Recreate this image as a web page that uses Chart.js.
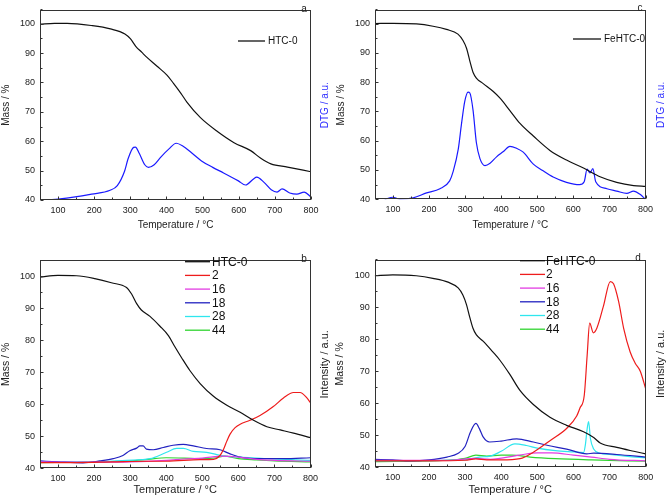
<!DOCTYPE html>
<html>
<head>
<meta charset="utf-8">
<script src="https://cdn.jsdelivr.net/npm/chart.js@4.4.1/dist/chart.umd.min.js"></script>
<style>
  html, body { margin: 0; padding: 0; background: #fff; }
  #wrap { position: relative; width: 666px; height: 501px; overflow: hidden; }
  canvas { position: absolute; }
</style>
</head>
<body>
<div id="wrap">
  <canvas id="ca" width="333" height="250" style="left:0;top:0"></canvas>
  <canvas id="cc" width="333" height="250" style="left:333px;top:0"></canvas>
  <canvas id="cb" width="333" height="251" style="left:0;top:250px"></canvas>
  <canvas id="cd" width="333" height="251" style="left:333px;top:250px"></canvas>
</div>
<script>
/* tick labels */
const X_TICKS = [100, 200, 300, 400, 500, 600, 700, 800];
const Y_TICKS = [40, 50, 60, 70, 80, 90, 100];

/* a: HTC-0 mass + DTG */
const T_A_MASS = [50, 90, 125, 195, 245, 285, 300, 315, 332, 346, 374, 402, 420, 440, 457, 494, 541, 587, 633, 661, 689, 735, 800];
const MASS_A = [99.8, 100.1, 100.1, 99.3, 98.2, 96.5, 94.9, 92.3, 90.2, 88.5, 85.5, 82.4, 79.6, 76.3, 73.2, 68, 63.3, 59.5, 56.8, 54.2, 52.3, 51.2, 49.6];
const T_A_DTG = [60, 92, 138, 193, 244, 264, 284, 294, 309, 314, 325, 340, 350, 366, 385, 407, 427, 446, 467, 497, 528, 558, 599, 619, 640, 650, 670, 690, 706, 720, 741, 761, 781, 800];
const DTG_A = [40, 40.2, 40.9, 42, 43.3, 44.9, 49.8, 54.1, 57.9, 58, 55.8, 52, 51.1, 52, 54.7, 57.4, 59.3, 58.3, 56.3, 53.3, 51.1, 49.2, 46.5, 45.1, 47.1, 47.8, 46, 43.5, 42.7, 43.8, 42.4, 42, 42.7, 41];

/* c: FeHTC-0 mass + DTG */
const T_C_MASS = [50, 100, 165, 211, 248, 280, 294, 304, 313, 322, 331, 350, 378, 396, 424, 452, 489, 535, 581, 628, 674, 720, 767, 800];
const MASS_C = [100, 100.1, 99.9, 99.1, 98, 96.4, 94.2, 91.5, 87.2, 83.3, 81.4, 79.5, 76.8, 74.6, 70.3, 65.9, 61.6, 56.7, 53.4, 50.7, 47.7, 45.8, 44.7, 44.4];
const T_C_DTG = [77, 100, 119, 156, 193, 230, 257, 267, 281, 290, 299, 308, 313, 322, 331, 341, 355, 369, 387, 406, 424, 443, 461, 489, 515, 544, 581, 617, 630, 638, 646, 654, 662, 693, 720, 748, 767, 785, 800];
const DTG_C = [40, 40.7, 40, 40.5, 42.2, 43.6, 46.3, 49.6, 57.2, 65.9, 73.5, 76.6, 76.3, 70.3, 59.4, 53.9, 51.5, 52.3, 54.5, 56.3, 58.1, 57.4, 56.1, 52, 49.8, 47.6, 45.8, 45, 46, 50.3, 49, 50.5, 46, 43.6, 42.8, 42, 42.8, 41.7, 40];

/* b: HTC-0 mass + MS signals */
const T_B_MASS = [50, 100, 151, 202, 248, 290, 304, 318, 331, 355, 382, 406, 424, 443, 466, 494, 531, 568, 605, 642, 679, 716, 753, 800];
const MASS_B = [99.8, 100.3, 100.2, 99.3, 98, 96.5, 94.5, 91.5, 89.5, 87.5, 84.5, 81.5, 78, 74.5, 70.5, 66.5, 62.5, 59.7, 57.5, 55, 53, 52, 51, 49.6];
const T_B_2 = [50, 150, 250, 350, 400, 494, 531, 549, 558, 568, 577, 591, 605, 632, 660, 697, 725, 753, 771, 790, 800];
const B_2 = [41.8, 41.8, 42, 42.2, 42.2, 42.7, 42.8, 44, 45.7, 48.5, 50.7, 52.7, 53.8, 55, 56.5, 59.3, 62, 63.7, 63.7, 62, 60.5];
const T_B_16 = [50, 200, 300, 400, 450, 500, 560, 600, 650, 700, 800];
const B_16 = [42, 41.9, 42, 42.5, 42.9, 43.2, 43.8, 43.5, 42.8, 42.5, 42.2];
const T_B_18 = [50, 100, 169, 216, 253, 280, 299, 318, 327, 336, 345, 364, 392, 419, 447, 475, 512, 549, 577, 605, 660, 725, 800];
const B_18 = [42.3, 42, 41.7, 42.3, 43, 44, 45.5, 46.3, 47, 47, 46, 45.8, 46.5, 47.2, 47.5, 47, 46.2, 45.8, 44.5, 43.5, 43, 43, 43.3];
const T_B_28 = [50, 200, 290, 355, 401, 429, 447, 475, 512, 540, 568, 605, 679, 800];
const B_28 = [42, 42, 42.5, 43, 45, 46.2, 46.2, 45.3, 45, 44.3, 43.7, 43.5, 43, 42.5];
const T_B_44 = [50, 200, 300, 350, 400, 450, 500, 540, 560, 600, 650, 700, 800];
const B_44 = [41.8, 41.9, 42.3, 42.8, 43.3, 43.2, 43, 43.3, 43.8, 43, 42.6, 42.3, 42];

/* d: FeHTC-0 mass + MS signals */
const T_D_MASS = [50, 100, 165, 211, 253, 281, 294, 304, 313, 322, 331, 350, 378, 396, 424, 452, 489, 535, 581, 628, 656, 674, 720, 767, 800];
const MASS_D = [99.8, 100.1, 99.8, 99, 97.8, 96, 93.8, 90.8, 86.9, 83.4, 81.4, 79.4, 75.9, 73.5, 69, 64, 59.6, 55.6, 53.1, 51.1, 49.3, 47.6, 46.2, 45, 44.2];
const T_D_2 = [50, 200, 300, 330, 360, 400, 452, 489, 535, 581, 609, 618, 630, 638, 645, 655, 665, 683, 702, 711, 725, 739, 757, 771, 785, 800];
const D_2 = [42, 42, 42.2, 42.6, 42.3, 42.3, 42.7, 44.7, 48.3, 52.1, 56, 58.5, 62.5, 75, 85, 82, 83.5, 90.3, 98, 97.3, 91.8, 83.4, 76, 72.5, 70, 64.5];
const T_D_16 = [50, 250, 330, 370, 450, 500, 540, 600, 650, 700, 800];
const D_16 = [42.2, 42.2, 42.8, 42.5, 43.8, 44.5, 44.5, 43.8, 43.2, 42.5, 42];
const T_D_18 = [50, 100, 150, 200, 250, 280, 300, 315, 330, 340, 350, 368, 400, 443, 489, 530, 581, 637, 656, 720, 800];
const D_18 = [42.5, 42.3, 42, 42.3, 43.2, 44.3, 46.5, 51, 53.7, 52, 49.5, 47.9, 48.2, 48.9, 47.9, 46.8, 45.7, 44.2, 44.4, 44, 43.2];
const T_D_28 = [50, 300, 340, 370, 400, 438, 470, 500, 550, 600, 628, 633, 638, 642, 647, 656, 674, 700, 750, 800];
const D_28 = [42, 42.3, 43.2, 43.5, 45, 47.3, 46.8, 46, 45.2, 44.8, 44.6, 47, 52, 54.3, 49, 45.7, 44.4, 44, 43.4, 43];
const T_D_44 = [50, 250, 300, 330, 360, 400, 430, 480, 550, 650, 800];
const D_44 = [41.8, 42.2, 42.8, 43.8, 43.5, 43.8, 43.8, 43.2, 42.7, 42.3, 41.9];

Chart.defaults.font.family = "'Liberation Sans', Arial, Helvetica, sans-serif";
Chart.defaults.color = "#222";

const pts = (xs, ys) => xs.map((x, i) => ({ x, y: ys[i] }));

function line(label, xs, ys, color, width) {
  return {
    label,
    data: pts(xs, ys),
    borderColor: color,
    borderWidth: width || 1.2,
    pointRadius: 0,
    fill: false,
    cubicInterpolationMode: "monotone"
  };
}

/* frame, inward ticks, custom legend, letter, right title */
const decor = {
  id: "decor",
  afterDatasetsDraw(chart, args, o) {
    const { ctx, chartArea: a, scales: { x, y } } = chart;
    const L = Math.round(a.left) + 0.5, R = Math.round(a.right) - 0.5;
    const T = Math.round(a.top) + 0.5, B = Math.round(a.bottom) - 0.5;
    ctx.save();
    ctx.strokeStyle = "#333";
    ctx.lineWidth = 1;
    ctx.strokeRect(L, T, R - L, B - T);
    ctx.beginPath();
    X_TICKS.forEach(v => {
      [v, v - 50].forEach((t, k) => {
        const px = Math.round(x.getPixelForValue(t)) + 0.5;
        ctx.moveTo(px, B);
        ctx.lineTo(px, B - (k ? 2 : 3));
      });
    });
    Y_TICKS.forEach(v => {
      [v, v + 5].forEach((t, k) => {
        const py = Math.round(y.getPixelForValue(t)) + 0.5;
        ctx.moveTo(L, py);
        ctx.lineTo(L + (k ? 2 : 3), py);
      });
    });
    ctx.stroke();

    // legend
    const lg = o.legend;
    ctx.font = lg.size + "px " + Chart.defaults.font.family;
    ctx.textBaseline = "middle";
    ctx.textAlign = "left";
    lg.items.forEach((di, i) => {
      const ds = chart.data.datasets[di];
      const yy = lg.y + i * lg.dy;
      ctx.strokeStyle = ds.borderColor;
      ctx.lineWidth = 1.3;
      ctx.beginPath();
      ctx.moveTo(lg.x1, yy);
      ctx.lineTo(lg.x2, yy);
      ctx.stroke();
      ctx.fillStyle = "#111";
      ctx.fillText(ds.label, lg.tx, yy + 0.5);
    });

    // panel letter
    ctx.font = "10px " + Chart.defaults.font.family;
    ctx.fillStyle = "#222";
    ctx.textAlign = "center";
    ctx.fillText(o.letter.text, o.letter.x, o.letter.y);

    // right axis title, reading bottom to top
    const rt = o.rightTitle;
    ctx.translate(rt.x, (a.top + a.bottom) / 2);
    ctx.rotate(-Math.PI / 2);
    ctx.font = rt.size + "px " + Chart.defaults.font.family;
    ctx.fillStyle = rt.color;
    ctx.fillText(rt.text, 0, 0);
    ctx.restore();
  }
};

function makeChart(id, p) {
  return new Chart(document.getElementById(id), {
    type: "line",
    data: { datasets: p.datasets },
    plugins: [decor],
    options: {
      responsive: false,
      animation: false,
      events: [],
      layout: { padding: { top: p.top, right: p.right, left: 0, bottom: 0 } },
      plugins: {
        legend: { display: false },
        tooltip: { enabled: false },
        decor: { legend: p.legend, letter: p.letter, rightTitle: p.rightTitle }
      },
      scales: {
        x: {
          type: "linear",
          min: 50,
          max: 800,
          afterBuildTicks: s => { s.ticks = X_TICKS.map(v => ({ value: v })); },
          afterFit: s => { s.height = p.xHeight; },
          grid: { display: false, drawTicks: false },
          border: { display: false },
          ticks: { padding: 5, maxRotation: 0, font: { size: p.tickSize }, color: "#222" },
          title: {
            display: true,
            text: "Temperature / °C",
            font: { size: p.xTitleSize },
            color: "#222",
            padding: { top: 0, bottom: p.xTitlePad }
          }
        },
        y: {
          min: 40,
          max: p.yMax,
          afterBuildTicks: s => { s.ticks = Y_TICKS.map(v => ({ value: v })); },
          afterFit: s => { s.width = p.left; },
          grid: { display: false, drawTicks: false },
          border: { display: false },
          ticks: { padding: 5, font: { size: p.tickSize }, color: "#222" },
          title: {
            display: true,
            text: "Mass / %",
            font: { size: p.yTitleSize },
            color: "#222",
            padding: { top: p.yTitlePad, bottom: 0 }
          }
        }
      }
    }
  });
}

makeChart("ca", {
  left: 40, right: 22, top: 2, xHeight: 50, yMax: 104.5,
  tickSize: 9, xTitleSize: 10, xTitlePad: 19, yTitleSize: 10, yTitlePad: 0,
  datasets: [
    line("HTC-0", T_A_MASS, MASS_A, "#111"),
    line("DTG", T_A_DTG, DTG_A, "#1a1aff")
  ],
  legend: { items: [0], x1: 238, x2: 265, tx: 268, y: 41, dy: 0, size: 10 },
  letter: { text: "a", x: 304, y: 9 },
  rightTitle: { text: "DTG / a.u.", x: 325, color: "#2b2bff", size: 10 }
});

makeChart("cc", {
  left: 42, right: 20.5, top: 2, xHeight: 50.7, yMax: 104.5,
  tickSize: 9, xTitleSize: 10, xTitlePad: 19, yTitleSize: 10, yTitlePad: 2,
  datasets: [
    line("FeHTC-0", T_C_MASS, MASS_C, "#111"),
    line("DTG", T_C_DTG, DTG_C, "#1a1aff")
  ],
  legend: { items: [0], x1: 240, x2: 268, tx: 271, y: 39, dy: 0, size: 10 },
  letter: { text: "c", x: 307, y: 8 },
  rightTitle: { text: "DTG / a.u.", x: 328, color: "#2b2bff", size: 10 }
});

makeChart("cb", {
  left: 40, right: 22.5, top: 1.6, xHeight: 32.7, yMax: 105,
  tickSize: 9, xTitleSize: 11, xTitlePad: 4.4, yTitleSize: 10.5, yTitlePad: 0,
  datasets: [
    line("HTC-0", T_B_MASS, MASS_B, "#111"),
    line("2", T_B_2, B_2, "#ee1c1c"),
    line("16", T_B_16, B_16, "#e23ce2"),
    line("18", T_B_18, B_18, "#2222c0"),
    line("28", T_B_28, B_28, "#2fe6ee"),
    line("44", T_B_44, B_44, "#2fd42f")
  ],
  legend: { items: [0, 1, 2, 3, 4, 5], x1: 185, x2: 210, tx: 212, y: 11.7, dy: 13.7, size: 12 },
  letter: { text: "b", x: 304, y: 9 },
  rightTitle: { text: "Intensity / a.u.", x: 325, color: "#222", size: 11 }
});

makeChart("cd", {
  left: 41.7, right: 20.3, top: 0.6, xHeight: 33.7, yMax: 104.6,
  tickSize: 9, xTitleSize: 11, xTitlePad: 4.4, yTitleSize: 10.5, yTitlePad: 1,
  datasets: [
    line("FeHTC-0", T_D_MASS, MASS_D, "#111"),
    line("2", T_D_2, D_2, "#ee1c1c"),
    line("16", T_D_16, D_16, "#e23ce2"),
    line("18", T_D_18, D_18, "#2222c0"),
    line("28", T_D_28, D_28, "#2fe6ee"),
    line("44", T_D_44, D_44, "#2fd42f")
  ],
  legend: { items: [0, 1, 2, 3, 4, 5], x1: 187, x2: 212, tx: 213, y: 10.7, dy: 13.7, size: 12 },
  letter: { text: "d", x: 305, y: 8 },
  rightTitle: { text: "Intensity / a.u.", x: 328, color: "#222", size: 11 }
});
</script>
</body>
</html>
